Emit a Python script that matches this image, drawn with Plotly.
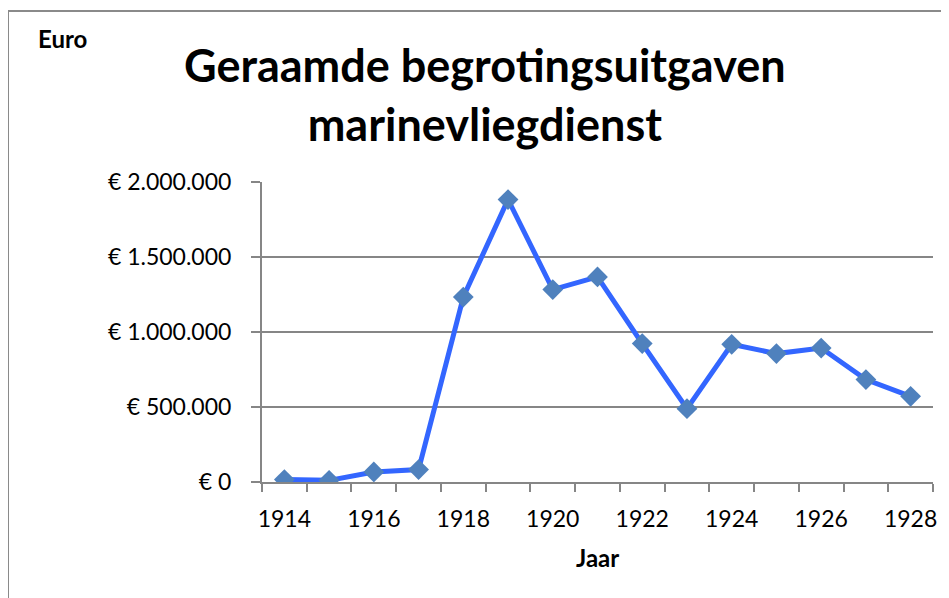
import plotly.graph_objects as go

# ---- data ----
years = list(range(1914, 1929))
values = [16000, 11000, 67000, 83000, 1233000, 1883000, 1283000, 1367000,
          923000, 489000, 918000, 856000, 893000, 683000, 571000]
ytick_vals = [0, 500000, 1000000, 1500000, 2000000]
ytick_text = ["€ 0", "€ 500.000", "€ 1.000.000", "€ 1.500.000", "€ 2.000.000"]
xtick_vals = [1914, 1916, 1918, 1920, 1922, 1924, 1926, 1928]
xtick_text = [str(v) for v in xtick_vals]
title_text = "Geraamde begrotingsuitgaven<br>marinevliegdienst"

FONT = "Lato"
GRAY = "#868686"

# page offset (browser body margin)
OFF = 8
W, H = 949 - OFF, 598 - OFF
# plot area in page pixels
L, R, T, B = 262 - OFF, 933 - OFF, 182 - OFF, 482 - OFF


def px(x):  # page x -> paper
    return (x - OFF - L) / (R - L)


def py(y):  # page y -> paper
    return (B - (y - OFF)) / (B - T)


fig = go.Figure()
fig.add_trace(go.Scatter(
    x=years, y=values, mode="lines+markers",
    line=dict(color="#3366FF", width=5),
    marker=dict(symbol="diamond", size=16, color="#4F81BD"),
    showlegend=False, hoverinfo="x+y",
))

fig.update_layout(
    width=W, height=H,
    margin=dict(l=L, r=W - R, t=T, b=H - B, pad=0),
    paper_bgcolor="white", plot_bgcolor="white",
    font=dict(family=FONT, color="black", size=23),
    xaxis=dict(
        range=[1913.5, 1928.5], tickmode="array", tickvals=xtick_vals,
        ticktext=xtick_text, ticks="", showgrid=False, zeroline=False,
        showline=True, linecolor=GRAY, linewidth=2,
        ticklabelstandoff=15,
        tickfont=dict(family=FONT, size=23, color="black"),
        minor=dict(tick0=1913.5, dtick=1, ticks="outside", ticklen=8,
                   tickcolor=GRAY, tickwidth=2, showgrid=False),
    ),
    yaxis=dict(
        range=[0, 2000000], tickmode="array", tickvals=ytick_vals,
        ticktext=ytick_text, ticks="outside", ticklen=9, tickcolor=GRAY,
        tickwidth=2, showgrid=True, gridcolor=GRAY, gridwidth=2,
        zeroline=False, showline=True, linecolor=GRAY, linewidth=2,
        ticklabelstandoff=15,
        tickfont=dict(family=FONT, size=23, color="black"),
    ),
    shapes=[dict(type="rect", xref="paper", yref="paper",
                 x0=px(8), x1=px(970), y0=py(620), y1=py(11),
                 line=dict(color="#8a8a8a", width=2), fillcolor="rgba(0,0,0,0)",
                 layer="below")],
    annotations=[
        dict(text="<b>" + title_text + "</b>", xref="paper", yref="paper",
             x=px(485), y=py(95), xanchor="center", yanchor="middle",
             showarrow=False, font=dict(family=FONT, size=45, color="black")),
        dict(text="<b>Euro</b>", xref="paper", yref="paper",
             x=px(62), y=py(38), xanchor="center", yanchor="middle",
             showarrow=False, font=dict(family=FONT, size=24, color="black")),
        dict(text="<b>Jaar</b>", xref="paper", yref="paper",
             x=px(597), y=py(557), xanchor="center", yanchor="middle",
             showarrow=False, font=dict(family=FONT, size=24, color="black")),
    ],
)

fig.write_html("out.html")
